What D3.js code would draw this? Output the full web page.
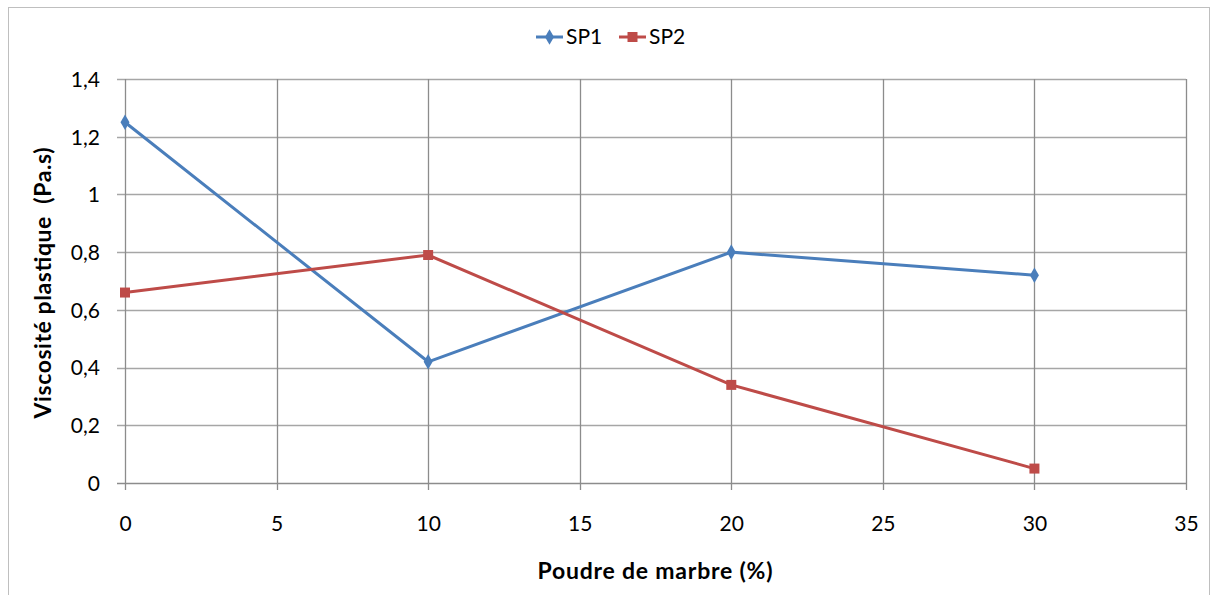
<!DOCTYPE html>
<meta charset="utf-8">
<style>
body { margin: 0; background: #fff; }
text { font-family: Lato, 'Open Sans', sans-serif; fill: #000; }
.axis-title { font-size: 23px; font-weight: bold; white-space: pre; }
.legend text { font-size: 21px; }
</style>
<svg id="chart" width="1215" height="595"></svg>
<script src="https://d3js.org/d3.v7.min.js"></script>
<script>

var xValues = [0, 10, 20, 30];
var sp1 = [1.25, 0.42, 0.80, 0.72];
var sp2 = [0.66, 0.79, 0.34, 0.05];
var xTicks = [0, 5, 10, 15, 20, 25, 30, 35];
var yTicks = [0, 0.2, 0.4, 0.6, 0.8, 1, 1.2, 1.4];

var svg = d3.select("#chart");

// outer chart border
svg.append("rect")
    .attr("x", 8.5).attr("y", 7.5)
    .attr("width", 1201).attr("height", 600)
    .attr("fill", "none").attr("stroke", "#bfbfbf");

var plotLeft = 125, plotRight = 1186, plotTop = 79, plotBottom = 483;

var x = d3.scaleLinear().domain([0, 35]).range([plotLeft, plotRight]);
var y = d3.scaleLinear().domain([0, 1.4]).range([plotBottom, plotTop]);

var fmt = function(d) { return String(+d.toFixed(1)).replace(".", ","); };

// horizontal gridlines
svg.append("g").selectAll("line")
    .data(yTicks)
    .enter().append("line")
    .attr("x1", plotLeft - 8).attr("x2", plotRight)
    .attr("y1", function(d) { return Math.round(y(d)) + 0.5; })
    .attr("y2", function(d) { return Math.round(y(d)) + 0.5; })
    .attr("stroke", function(d) { return d === 0 ? "#8c8c8c" : "#a6a6a6"; })
    .attr("stroke-width", 1.3);

// vertical gridlines
svg.append("g").selectAll("line")
    .data(xTicks)
    .enter().append("line")
    .attr("x1", function(d) { return Math.round(x(d)) + 0.5; })
    .attr("x2", function(d) { return Math.round(x(d)) + 0.5; })
    .attr("y1", plotTop).attr("y2", plotBottom + 7)
    .attr("stroke", "#8c8c8c")
    .attr("stroke-width", 1.3);

// axis labels via d3 axes, lines hidden
var yAxis = svg.append("g")
    .attr("transform", "translate(" + (plotLeft - 25) + ",0)")
    .call(d3.axisLeft(y).tickValues(yTicks).tickFormat(fmt).tickSize(0).tickPadding(0));
yAxis.select(".domain").remove();
yAxis.selectAll("text").attr("dy", "0.35em");

var xAxis = svg.append("g")
    .attr("transform", "translate(0," + (plotBottom + 33) + ")")
    .call(d3.axisBottom(x).tickValues(xTicks).tickSize(0).tickPadding(0));
xAxis.select(".domain").remove();

svg.selectAll(".tick text")
    .attr("fill", "#000")
    .style("font-family", "Lato, 'Open Sans', sans-serif")
    .style("font-size", "21px");

svg.append("text")
    .attr("class", "axis-title")
    .attr("x", 655).attr("y", 579)
    .attr("text-anchor", "middle")
    .attr("textLength", 235)
    .text("Poudre de marbre (%)");

svg.append("text")
    .attr("class", "axis-title")
    .attr("transform", "translate(51,283) rotate(-90)")
    .attr("text-anchor", "middle")
    .attr("textLength", 271)
    .text("Viscosité plastique  (Pa.s)");

var line = d3.line()
    .x(function(d, i) { return x(xValues[i]); })
    .y(function(d) { return y(d); });

var series = [
    {name: "SP1", values: sp1, color: "#4a7ebb", symbol: d3.symbolDiamond, size: 70},
    {name: "SP2", values: sp2, color: "#be4b48", symbol: d3.symbolSquare, size: 100}
];

series.forEach(function(s) {
    svg.append("path")
        .datum(s.values)
        .attr("d", line)
        .attr("fill", "none")
        .attr("stroke", s.color)
        .attr("stroke-width", 3);
    svg.append("g").selectAll("path")
        .data(s.values)
        .enter().append("path")
        .attr("transform", function(d, i) { return "translate(" + x(xValues[i]) + "," + y(d) + ")"; })
        .attr("d", d3.symbol().type(s.symbol).size(s.size))
        .attr("fill", s.color);
});

// legend
var legend = svg.append("g").attr("class", "legend");
var legendX = [536, 619];
series.forEach(function(s, i) {
    var g = legend.append("g").attr("transform", "translate(" + legendX[i] + ",37)");
    g.append("line").attr("x1", 0).attr("x2", 27).attr("y1", 0).attr("y2", 0)
        .attr("stroke", s.color).attr("stroke-width", 3);
    g.append("path").attr("transform", "translate(13.5,0)")
        .attr("d", d3.symbol().type(s.symbol).size(s.size))
        .attr("fill", s.color);
    g.append("text").attr("x", 30).attr("y", 0).attr("dy", "0.35em").text(s.name);
});

</script>
